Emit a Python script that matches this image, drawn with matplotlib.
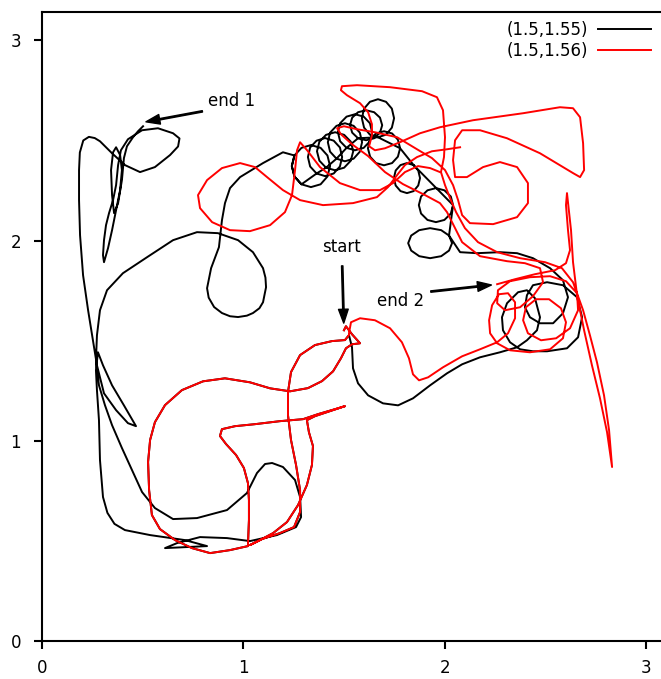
import numpy as np
import matplotlib
matplotlib.use("Agg")
from matplotlib import pyplot as plt

#---------------------------------Data start--------------------------------
# both runs follow the same path for a while after release
common_pts = [(1.500, 1.552), (1.510, 1.572), (1.540, 1.532), (1.580, 1.487), (1.540, 1.482),
	(1.510, 1.462), (1.485, 1.412), (1.446, 1.347), (1.391, 1.298), (1.321, 1.263), (1.232, 1.247),
	(1.133, 1.262), (1.033, 1.292), (0.909, 1.312), (0.800, 1.297), (0.695, 1.253), (0.611, 1.178),
	(0.561, 1.093), (0.537, 1.004), (0.527, 0.894), (0.532, 0.754), (0.546, 0.629), (0.586, 0.559),
	(0.661, 0.504), (0.745, 0.464), (0.835, 0.439), (0.934, 0.454), (1.023, 0.474), (1.028, 0.604),
	(1.028, 0.704), (1.023, 0.789), (1.003, 0.864), (0.964, 0.929), (0.914, 0.984), (0.884, 1.024),
	(0.894, 1.058), (0.959, 1.073), (1.058, 1.083), (1.182, 1.098), (1.297, 1.108), (1.371, 1.133),
	(1.456, 1.158), (1.505, 1.173), (1.446, 1.153), (1.356, 1.123), (1.316, 1.103), (1.326, 1.043),
	(1.346, 0.974), (1.341, 0.879), (1.316, 0.779), (1.272, 0.679), (1.217, 0.594), (1.148, 0.539),
	(1.073, 0.499), (1.033, 0.479), (1.093, 0.509), (1.182, 0.539), (1.252, 0.569), (1.282, 0.644),
	(1.282, 0.754), (1.262, 0.879), (1.237, 1.004), (1.222, 1.128), (1.222, 1.243), (1.237, 1.343),
	(1.282, 1.428), (1.356, 1.478), (1.441, 1.498), (1.505, 1.503), (1.525, 1.528)]

# (1.5,1.55): swings out to the right after the split
black_right = [(1.540, 1.467), (1.545, 1.362), (1.570, 1.287), (1.620, 1.227), (1.694, 1.187),
	(1.769, 1.177), (1.843, 1.212), (1.928, 1.277), (2.012, 1.337), (2.087, 1.382), (2.176, 1.417),
	(2.275, 1.442), (2.360, 1.467), (2.409, 1.502), (2.459, 1.552), (2.474, 1.617), (2.449, 1.712),
	(2.409, 1.752), (2.365, 1.742), (2.310, 1.687), (2.285, 1.617), (2.290, 1.552), (2.325, 1.492),
	(2.375, 1.457), (2.439, 1.447), (2.509, 1.447), (2.608, 1.462), (2.663, 1.517), (2.683, 1.617),
	(2.658, 1.717), (2.588, 1.777), (2.509, 1.792), (2.439, 1.777), (2.409, 1.727), (2.399, 1.667),
	(2.424, 1.617), (2.474, 1.587), (2.539, 1.587), (2.588, 1.637), (2.613, 1.717), (2.588, 1.802),
	(2.524, 1.862), (2.439, 1.912), (2.360, 1.937), (2.275, 1.942), (2.161, 1.937), (2.077, 1.942)]

# chain of loops drifting up and to the left
black_loops = [
	(2.022, 2.025), (2.037, 1.987), (2.022, 1.950), (1.983, 1.922), (1.928, 1.912), (1.874, 1.922),
	(1.834, 1.950), (1.819, 1.987), (1.834, 2.025), (1.874, 2.052), (1.928, 2.062), (1.983, 2.052),
	(2.022, 2.025),
	(2.042, 2.177), (2.031, 2.135), (1.999, 2.103), (1.957, 2.092), (1.915, 2.103), (1.883, 2.135),
	(1.872, 2.177), (1.883, 2.220), (1.915, 2.251), (1.957, 2.262), (1.999, 2.251), (2.031, 2.220),
	(2.042, 2.177),
	(1.846, 2.377), (1.869, 2.350), (1.878, 2.312), (1.869, 2.275), (1.846, 2.247), (1.813, 2.237),
	(1.781, 2.247), (1.757, 2.275), (1.748, 2.312), (1.757, 2.350), (1.781, 2.377), (1.813, 2.387),
	(1.846, 2.377),
	(1.779, 2.461), (1.768, 2.419), (1.739, 2.387), (1.699, 2.376), (1.659, 2.387), (1.630, 2.419),
	(1.619, 2.461), (1.630, 2.504), (1.659, 2.535), (1.699, 2.546), (1.739, 2.535), (1.768, 2.504),
	(1.779, 2.461),
	(1.669, 2.516), (1.629, 2.529), (1.600, 2.564), (1.589, 2.611), (1.600, 2.659), (1.629, 2.693),
	(1.669, 2.706), (1.709, 2.693), (1.738, 2.659), (1.749, 2.611), (1.738, 2.564), (1.709, 2.529),
	(1.669, 2.516),
	(1.570, 2.511), (1.541, 2.539), (1.530, 2.576), (1.541, 2.614), (1.570, 2.641), (1.610, 2.651),
	(1.650, 2.641), (1.679, 2.614), (1.690, 2.576), (1.679, 2.539), (1.650, 2.511), (1.610, 2.501),
	(1.570, 2.511),
	(1.513, 2.463), (1.481, 2.496), (1.470, 2.541), (1.481, 2.586), (1.513, 2.619), (1.555, 2.631),
	(1.598, 2.619), (1.629, 2.586), (1.640, 2.541), (1.629, 2.496), (1.598, 2.463), (1.555, 2.451),
	(1.513, 2.463),
	(1.463, 2.409), (1.431, 2.444), (1.420, 2.491), (1.431, 2.539), (1.463, 2.573), (1.505, 2.586),
	(1.548, 2.573), (1.579, 2.539), (1.590, 2.491), (1.579, 2.444), (1.548, 2.409), (1.505, 2.396),
	(1.463, 2.409),
	(1.411, 2.364), (1.378, 2.399), (1.366, 2.446), (1.378, 2.494), (1.411, 2.528), (1.456, 2.541),
	(1.501, 2.528), (1.534, 2.494), (1.546, 2.446), (1.534, 2.399), (1.501, 2.364), (1.456, 2.351),
	(1.411, 2.364),
	(1.364, 2.335), (1.332, 2.370), (1.321, 2.417), (1.332, 2.465), (1.364, 2.499), (1.406, 2.512),
	(1.449, 2.499), (1.480, 2.465), (1.491, 2.417), (1.480, 2.370), (1.449, 2.335), (1.406, 2.322),
	(1.364, 2.335),
	(1.289, 2.281), (1.254, 2.320), (1.241, 2.372), (1.254, 2.425), (1.289, 2.463), (1.336, 2.477),
	(1.384, 2.463), (1.418, 2.425), (1.431, 2.372), (1.418, 2.320), (1.384, 2.281), (1.336, 2.267),
	(1.289, 2.281), (1.254, 2.320), (1.241, 2.372), (1.254, 2.425)]

# big loop, down the left side, and back up to the top left
black_left = [(1.197, 2.441), (1.098, 2.387), (0.984, 2.317), (0.934, 2.262), (0.909, 2.187),
	(0.894, 2.102), (0.879, 1.967), (0.840, 1.862), (0.820, 1.762), (0.828, 1.715), (0.855, 1.668),
	(0.894, 1.638), (0.934, 1.622), (0.974, 1.618), (1.018, 1.625), (1.048, 1.638), (1.080, 1.662),
	(1.098, 1.692), (1.113, 1.767), (1.110, 1.815), (1.098, 1.862), (1.048, 1.942), (0.974, 2.002),
	(0.874, 2.037), (0.770, 2.042), (0.651, 2.002), (0.522, 1.917), (0.402, 1.837), (0.323, 1.752),
	(0.288, 1.652), (0.273, 1.527), (0.268, 1.402), (0.283, 1.277), (0.313, 1.177), (0.348, 1.078),
	(0.397, 0.964), (0.447, 0.854), (0.497, 0.744), (0.561, 0.664), (0.651, 0.609), (0.770, 0.614),
	(0.919, 0.654), (1.018, 0.739), (1.068, 0.839), (1.108, 0.884), (1.143, 0.889), (1.197, 0.869),
	(1.257, 0.804), (1.282, 0.719), (1.287, 0.619), (1.262, 0.569), (1.167, 0.529), (1.033, 0.499),
	(0.919, 0.514), (0.785, 0.519), (0.671, 0.489), (0.611, 0.464), (0.710, 0.469), (0.820, 0.474),
	(0.710, 0.504), (0.537, 0.529), (0.412, 0.554), (0.360, 0.585), (0.325, 0.640), (0.303, 0.719),
	(0.288, 0.904), (0.283, 1.103), (0.273, 1.252), (0.268, 1.352), (0.278, 1.442), (0.303, 1.377),
	(0.348, 1.277), (0.407, 1.177), (0.467, 1.073), (0.427, 1.088), (0.368, 1.153), (0.308, 1.237),
	(0.273, 1.377), (0.253, 1.502), (0.229, 1.652), (0.204, 1.827), (0.189, 2.027), (0.184, 2.202),
	(0.184, 2.352), (0.188, 2.440), (0.205, 2.500), (0.233, 2.518), (0.262, 2.512), (0.288, 2.496),
	(0.348, 2.436), (0.412, 2.377), (0.487, 2.342), (0.561, 2.367), (0.636, 2.427), (0.676, 2.470),
	(0.683, 2.510), (0.651, 2.536), (0.576, 2.561), (0.497, 2.551), (0.427, 2.506), (0.392, 2.451),
	(0.378, 2.377), (0.368, 2.277), (0.353, 2.202), (0.333, 2.137), (0.318, 2.077), (0.308, 2.002),
	(0.303, 1.927), (0.308, 1.892), (0.328, 1.962), (0.348, 2.052), (0.368, 2.152), (0.388, 2.252),
	(0.397, 2.352), (0.388, 2.427), (0.368, 2.466), (0.353, 2.441), (0.343, 2.352), (0.348, 2.227),
	(0.358, 2.137), (0.378, 2.187), (0.397, 2.302), (0.407, 2.412), (0.422, 2.471), (0.452, 2.516),
	(0.477, 2.546), (0.502, 2.571)]

# (1.5,1.56) after the split
red_pts = [(1.525, 1.537), (1.535, 1.592), (1.580, 1.612), (1.654, 1.602), (1.729, 1.562),
	(1.788, 1.492), (1.823, 1.412), (1.843, 1.332), (1.873, 1.302), (1.918, 1.317), (1.992, 1.367),
	(2.087, 1.422), (2.176, 1.457), (2.261, 1.492), (2.315, 1.537), (2.350, 1.612), (2.350, 1.692),
	(2.315, 1.737), (2.270, 1.732), (2.236, 1.677), (2.221, 1.602), (2.226, 1.537), (2.261, 1.487),
	(2.325, 1.452), (2.424, 1.442), (2.524, 1.457), (2.588, 1.512), (2.603, 1.592), (2.578, 1.662),
	(2.519, 1.707), (2.454, 1.707), (2.404, 1.667), (2.390, 1.602), (2.414, 1.537), (2.479, 1.502),
	(2.554, 1.512), (2.623, 1.562), (2.663, 1.652), (2.658, 1.737), (2.603, 1.797), (2.524, 1.822),
	(2.424, 1.817), (2.325, 1.797), (2.265, 1.752), (2.261, 1.687), (2.300, 1.652), (2.375, 1.667),
	(2.439, 1.722), (2.489, 1.792), (2.474, 1.862), (2.399, 1.887), (2.310, 1.897), (2.176, 1.922),
	(2.087, 1.992), (2.052, 2.062), (2.012, 2.142), (1.977, 2.187), (1.903, 2.227), (1.793, 2.282),
	(1.704, 2.342), (1.620, 2.422), (1.540, 2.481), (1.485, 2.531), (1.466, 2.561), (1.500, 2.571),
	(1.565, 2.556), (1.654, 2.541), (1.764, 2.516), (1.863, 2.456), (1.937, 2.412), (2.002, 2.352),
	(2.042, 2.277), (2.067, 2.202), (2.087, 2.127), (2.126, 2.087), (2.241, 2.082), (2.360, 2.117),
	(2.414, 2.187), (2.414, 2.287), (2.360, 2.367), (2.275, 2.392), (2.191, 2.367), (2.111, 2.317),
	(2.052, 2.317), (2.042, 2.402), (2.052, 2.501), (2.087, 2.551), (2.176, 2.551), (2.310, 2.511),
	(2.474, 2.436), (2.638, 2.337), (2.673, 2.317), (2.693, 2.352), (2.688, 2.486), (2.673, 2.616),
	(2.638, 2.661), (2.573, 2.666), (2.390, 2.636), (2.141, 2.601), (1.977, 2.566), (1.878, 2.536),
	(1.778, 2.491), (1.704, 2.461), (1.654, 2.451), (1.625, 2.471), (1.639, 2.526), (1.639, 2.581),
	(1.620, 2.641), (1.580, 2.686), (1.515, 2.726), (1.485, 2.751), (1.490, 2.771), (1.565, 2.776),
	(1.729, 2.766), (1.888, 2.746), (1.962, 2.716), (1.992, 2.651), (2.002, 2.516), (1.997, 2.417),
	(1.982, 2.342), (2.002, 2.277), (2.027, 2.212), (2.057, 2.142), (2.101, 2.062), (2.166, 1.992),
	(2.261, 1.942), (2.375, 1.912), (2.499, 1.892), (2.583, 1.862), (2.638, 1.792), (2.688, 1.652),
	(2.722, 1.527), (2.757, 1.392), (2.792, 1.227), (2.817, 1.053), (2.832, 0.869), (2.807, 1.043),
	(2.772, 1.212), (2.732, 1.377), (2.693, 1.552), (2.658, 1.727), (2.638, 1.892), (2.628, 2.052),
	(2.608, 2.237), (2.603, 2.177), (2.613, 2.052), (2.623, 1.952), (2.603, 1.887), (2.549, 1.852),
	(2.449, 1.832), (2.350, 1.807), (2.261, 1.782)]

# loop of the (1.5,1.56) run on the left of the tangle
red_loop = [(1.977, 2.342), (1.928, 2.362), (1.868, 2.372), (1.803, 2.342), (1.744, 2.287),
	(1.679, 2.252), (1.580, 2.252), (1.480, 2.287), (1.381, 2.367), (1.317, 2.451), (1.282, 2.491),
	(1.267, 2.451), (1.257, 2.352), (1.242, 2.227), (1.207, 2.142), (1.133, 2.077), (1.033, 2.047),
	(0.934, 2.052), (0.845, 2.092), (0.785, 2.162), (0.775, 2.227), (0.820, 2.302), (0.894, 2.362),
	(0.984, 2.387), (1.058, 2.367), (1.118, 2.317), (1.197, 2.252), (1.282, 2.202), (1.396, 2.177),
	(1.545, 2.187), (1.664, 2.217), (1.719, 2.267), (1.764, 2.327), (1.803, 2.377), (1.863, 2.417),
	(1.937, 2.446), (2.012, 2.456), (2.077, 2.466)]

labels = ["(1.5,1.55)", "(1.5,1.56)"]
start_pt = (1.5, 1.55)
end1_pt = (0.5, 2.59)
end2_pt = (2.25, 1.78)
#---------------------------------Data end--------------------------------

black_x, black_y = zip(*(common_pts + black_right + black_loops + black_left))
red_x, red_y = zip(*(common_pts + red_pts))
loop_x, loop_y = zip(*red_loop)

plt.rcParams['font.size'] = 12

fig = plt.figure(figsize=(6.61, 6.79), dpi=100)
ax = fig.add_axes([42/661, 38/679, 632.4/661, 629/679])

line1, = ax.plot(black_x, black_y, color="black", lw=1.4)
line2, = ax.plot(red_x, red_y, color="red", lw=1.4)
ax.plot(loop_x, loop_y, color="red", lw=1.4)

arrow = dict(facecolor="black", edgecolor="black", width=1, headwidth=7, headlength=10, shrink=0.1)
ax.annotate("start", xy=start_pt, xytext=(1.49, 1.97), ha="center", va="center", arrowprops=arrow)
arrow = dict(arrow, shrink=0.05)
ax.annotate("end 1", xy=end1_pt, xytext=(0.944, 2.696), ha="center", va="center", arrowprops=arrow)
ax.annotate("end 2", xy=end2_pt, xytext=(1.783, 1.697), ha="center", va="center", arrowprops=arrow)

ax.set_xlim(0, np.pi)
ax.set_ylim(0, np.pi)
ax.set_xticks([0, 1, 2, 3])
ax.set_yticks([0, 1, 2, 3])
ax.tick_params(length=6, width=1.5)
ax.tick_params(axis="x", pad=7)
ax.tick_params(axis="y", pad=9)
for s in ax.spines.values():
	s.set_linewidth(1.5)

ax.legend([line1, line2], labels, loc="upper right", bbox_to_anchor=(0.974, 0.997),
	frameon=False, markerfirst=False, handlelength=3.2, handletextpad=0.6,
	labelspacing=0.2, borderaxespad=0)

fig.savefig("out.png", dpi=100)
